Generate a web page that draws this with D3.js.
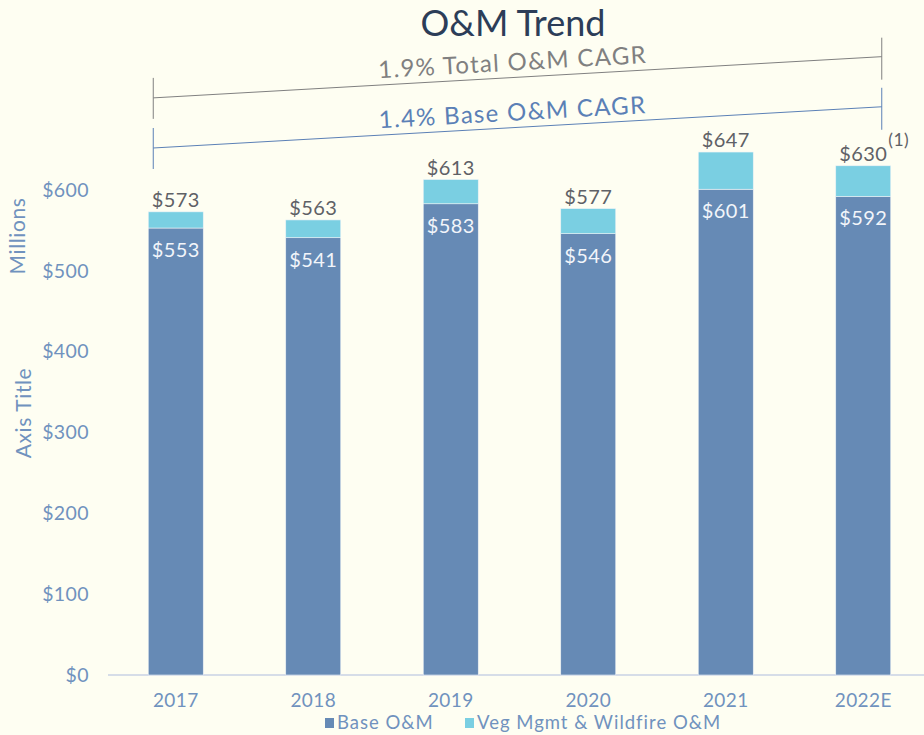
<!DOCTYPE html>
<html>
<head>
<meta charset="utf-8">
<script src="https://cdn.jsdelivr.net/npm/d3@7"></script>
<style>
  html, body { margin: 0; padding: 0; background: #FEFEF2; }
  svg { display: block; font-family: Lato, "Open Sans", sans-serif; font-weight: 400; }
</style>
</head>
<body>
<svg id="chart" width="924" height="735"></svg>
<script>
const years = ["2017", "2018", "2019", "2020", "2021", "2022E"];
const baseOM = [553, 541, 583, 546, 601, 592];
const vegOM = [20, 22, 30, 31, 46, 38];
const totalOM = [573, 563, 613, 577, 647, 630];
const totalNotes = ["", "", "", "", "", "(1)"];
const yTicks = [0, 100, 200, 300, 400, 500, 600];
const seriesNames = ["Base O&M", "Veg Mgmt & Wildfire O&M"];
const seriesColors = ["#668AB5", "#7ACFE2"];
const cagrLabels = ["1.9% Total O&M CAGR", "1.4% Base O&M CAGR"];
const cagrStart = [714, 652];   // value-axis level of the bracket at 2017
const cagrEnd = [765, 703];     // value-axis level of the bracket at 2022E
const cagrColors = ["#808080", "#5B80B6"];

const svg = d3.select("#chart");
const W = 924, H = 735;
svg.append("rect").attr("width", W).attr("height", H).attr("fill", "#FEFEF2");

const x = d3.scaleBand().domain(years).range([107, 932]).paddingInner(0.6).paddingOuter(0.3);
const y = d3.scaleLinear().domain([0, 700]).range([675, 109.2]);

// Title
svg.append("text").attr("x", 513).attr("y", 36).attr("text-anchor", "middle")
  .attr("font-size", 36).attr("fill", "#2C3D58").text("O&M Trend");

// Y axis labels
const yAxis = d3.axisLeft(y).tickValues(yTicks).tickFormat(d => "$" + d).tickSize(0).tickPadding(0);
const gy = svg.append("g").attr("transform", "translate(89,0)").call(yAxis);
gy.select(".domain").remove();
gy.selectAll("text").attr("font-size", 19.5).attr("fill", "#7092BE").attr("font-family", "Lato").attr("letter-spacing", 0.4);

// Axis titles
svg.append("text").attr("transform", "translate(25,236) rotate(-90)").attr("text-anchor", "middle")
  .attr("font-size", 21).attr("letter-spacing", 0.6).attr("fill", "#7092BE").text("Millions");
svg.append("text").attr("transform", "translate(31,413) rotate(-90)").attr("text-anchor", "middle")
  .attr("font-size", 21).attr("letter-spacing", 0.6).attr("fill", "#7092BE").text("Axis Title");

// X axis
const xAxis = d3.axisBottom(x).tickSize(0).tickPadding(0);
const gx = svg.append("g").attr("transform", "translate(0,675)").call(xAxis);
gx.select(".domain").attr("stroke", "#D6DDE8").attr("stroke-width", 2).attr("d", "M108,0H924");
gx.selectAll("text").attr("font-size", 19).attr("fill", "#7092BE").attr("font-family", "Lato")
  .attr("letter-spacing", 0.4).attr("dy", 0).attr("y", 32);

// Stacked bars
const rows = years.map((yr, i) => ({ year: yr, base: baseOM[i], veg: vegOM[i], total: totalOM[i], note: totalNotes[i] }));
const stack = d3.stack().keys(["base", "veg"])(rows);
svg.append("g").selectAll("g").data(stack).join("g")
  .attr("fill", (d, i) => seriesColors[i])
  .selectAll("rect").data(d => d).join("rect")
  .attr("x", d => x(d.data.year))
  .attr("width", x.bandwidth())
  .attr("y", d => y(d[1]))
  .attr("height", d => y(d[0]) - y(d[1]))
  .attr("stroke", "#EEF2F6").attr("stroke-width", 0.6);

// Base labels inside
svg.append("g").selectAll("text").data(rows).join("text")
  .attr("x", d => x(d.year) + x.bandwidth() / 2)
  .attr("y", d => y(d.base) + 29)
  .attr("text-anchor", "middle").attr("font-size", 20).attr("letter-spacing", 0.4).attr("fill", "#F2F5FA")
  .text(d => "$" + d.base);

// Total labels on top
const tl = svg.append("g").selectAll("g").data(rows).join("g");
tl.append("text")
  .attr("x", d => x(d.year) + x.bandwidth() / 2)
  .attr("y", d => y(d.total) - 5)
  .attr("text-anchor", "middle").attr("font-size", 20).attr("letter-spacing", 0.4).attr("fill", "#5F6166")
  .text(d => "$" + d.total);
tl.filter(d => d.note).append("text")
  .attr("x", d => x(d.year) + x.bandwidth() / 2 + 25)
  .attr("y", d => y(d.total) - 20)
  .attr("font-size", 17.5).attr("letter-spacing", 0.5).attr("fill", "#5F6166")
  .text(d => d.note);

// CAGR brackets
const bx0 = x(years[0]) + 5;
const bx1 = x(years[years.length - 1]) + x.bandwidth() - 9;
cagrLabels.forEach((lab, i) => {
  const y0 = y(cagrStart[i]), y1 = y(cagrEnd[i]);
  const g = svg.append("g").attr("stroke", cagrColors[i]).attr("stroke-width", 1);
  g.append("line").attr("x1", bx0).attr("y1", y0).attr("x2", bx1).attr("y2", y1);
  g.append("line").attr("x1", bx0).attr("y1", y0 - 20).attr("x2", bx0).attr("y2", y0 + 21);
  g.append("line").attr("x1", bx1).attr("y1", y1 - 19).attr("x2", bx1).attr("y2", y1 + 23);
  const ang = Math.atan2(y1 - y0, bx1 - bx0) * 180 / Math.PI;
  const cx = 513;
  const t = (cx - bx0) / (bx1 - bx0);
  const cy = y0 + t * (y1 - y0);
  svg.append("text").attr("transform", `translate(${cx},${cy - 7}) rotate(${ang})`)
    .attr("text-anchor", "middle").attr("font-size", 24).attr("letter-spacing", 1.3).attr("fill", cagrColors[i])
    .text(lab);
});

// Legend
const leg = svg.append("g");
const legX = [325, 465];
seriesNames.forEach((n, i) => {
  leg.append("rect").attr("x", legX[i]).attr("y", 718).attr("width", 9).attr("height", 10).attr("fill", seriesColors[i]);
  leg.append("text").attr("x", legX[i] + 12).attr("y", 729).attr("font-size", 18.5).attr("letter-spacing", 1)
    .attr("fill", "#7092BE").text(n);
});
</script>
</body>
</html>
